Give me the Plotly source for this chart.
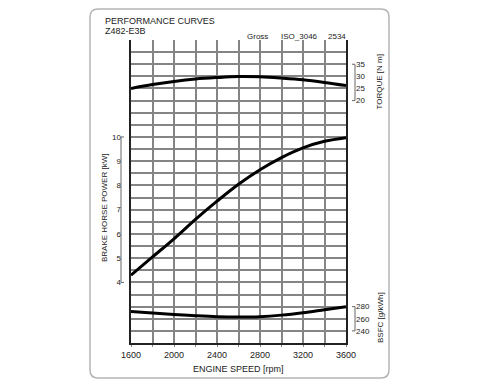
import plotly.graph_objects as go

# ---- data ----
rpm = [1600, 1800, 2000, 2200, 2400, 2600, 2800, 3000, 3200, 3400, 3600]
torque_nm = [25.0, 26.6, 27.9, 28.9, 29.5, 29.9, 29.8, 29.3, 28.6, 27.5, 26.2]
power_kw = [4.3, 5.05, 5.8, 6.6, 7.35, 8.05, 8.65, 9.15, 9.55, 9.82, 9.97]
bsfc_gkwh = [272, 269.5, 267, 265, 263.5, 263, 263.5, 266, 270, 275, 280]

x_ticks = [1600, 2000, 2400, 2800, 3200, 3600]
power_ticks = [4, 5, 6, 7, 8, 9, 10]
torque_ticks = [20, 25, 30, 35]
bsfc_ticks = [240, 260, 280]

# ---- layout helpers (screen pixel -> paper); page body has an 8px margin ----
OFF = 8
L, R, T, B = 121 - OFF, 355 - OFF, 40 - OFF, 343 - OFF
W, H = R - L, B - T
def px(x):
    return (x - OFF - L) / W
def py(y):
    return (B - (y - OFF)) / H

FONT = "Liberation Sans, Arial, sans-serif"
TXT = "#222222"
GRID = "#858585"

fig = go.Figure()
# invisible trace so the base grid axis is drawn
fig.add_trace(go.Scatter(x=[rpm[0], rpm[-1]], y=[0, 25], mode="markers",
                         marker=dict(opacity=0), hoverinfo="skip"))
fig.add_trace(go.Scatter(x=rpm, y=torque_nm, yaxis="y3", mode="lines",
                         line=dict(color="black", width=3, shape="spline"), hoverinfo="skip"))
fig.add_trace(go.Scatter(x=rpm, y=power_kw, yaxis="y2", mode="lines",
                         line=dict(color="black", width=3, shape="spline"), hoverinfo="skip"))
fig.add_trace(go.Scatter(x=rpm, y=bsfc_gkwh, yaxis="y4", mode="lines",
                         line=dict(color="black", width=3, shape="spline"), hoverinfo="skip"))

fig.update_layout(
    width=500, height=384,
    margin=dict(l=L, r=500 - R, t=T, b=384 - B),
    paper_bgcolor="white", plot_bgcolor="rgba(0,0,0,0)",
    showlegend=False,
    font=dict(family=FONT, size=9, color=TXT),
    xaxis=dict(domain=[px(131), px(346)], range=[1600, 3600],
               tickvals=list(range(1600, 3601, 200)),
               ticktext=[str(v) if v in x_ticks else "" for v in range(1600, 3601, 200)],
               showgrid=True, gridcolor=GRID, gridwidth=1.5,
               showline=True, linecolor="#222", linewidth=2, mirror=False,
               ticks="outside", ticklen=2, tickcolor=GRID,
               tickfont=dict(size=9, color=TXT), zeroline=False, fixedrange=True),
    yaxis=dict(range=[0, 25], dtick=1, showticklabels=False,
               showgrid=True, gridcolor=GRID, gridwidth=1.5,
               showline=True, linecolor="#222", linewidth=2, mirror=True,
               zeroline=False, ticks="", fixedrange=True),
    yaxis2=dict(overlaying="y", anchor="free", position=0, side="left",
                range=[1.5, 14], tickvals=power_ticks,
                showgrid=False, showline=False, zeroline=False, ticks="",
                tickfont=dict(size=8, color=TXT), fixedrange=True),
    yaxis3=dict(overlaying="y", anchor="free", position=1, side="right",
                range=[-80, 45], tickvals=torque_ticks,
                showgrid=False, showline=False, zeroline=False, ticks="",
                tickfont=dict(size=8, color=TXT), fixedrange=True),
    yaxis4=dict(overlaying="y", anchor="free", position=1, side="right",
                range=[220, 720], tickvals=bsfc_ticks,
                showgrid=False, showline=False, zeroline=False, ticks="",
                tickfont=dict(size=8, color=TXT), fixedrange=True),
)

# brackets for the secondary scales
def bracket(yref, lo, hi, x, hook):
    fig.add_shape(type="line", xref="paper", yref=yref, x0=x, x1=x, y0=lo, y1=hi,
                  line=dict(color="#666", width=1))
    for v in (lo, hi):
        fig.add_shape(type="line", xref="paper", yref=yref, x0=x, x1=x + hook,
                      y0=v, y1=v, line=dict(color="#666", width=1))

bracket("y2", power_ticks[0], power_ticks[-1], 0, 3 / W)
bracket("y3", torque_ticks[0], torque_ticks[-1], 1, -3 / W)
bracket("y4", bsfc_ticks[0], bsfc_ticks[-1], 1, -3 / W)

# outer rounded frame
x0, x1, y0, y1 = px(90), px(389), py(378), py(OFF + 0.9)
rx, ry = 8 / W, 8 / H
path = (f"M {x0+rx},{y0} L {x1-rx},{y0} Q {x1},{y0} {x1},{y0+ry} "
        f"L {x1},{y1-ry} Q {x1},{y1} {x1-rx},{y1} L {x0+rx},{y1} "
        f"Q {x0},{y1} {x0},{y1-ry} L {x0},{y0+ry} Q {x0},{y0} {x0+rx},{y0} Z")
fig.add_shape(type="path", path=path, xref="paper", yref="paper",
              line=dict(color="#b5b5b5", width=1.5), layer="below")

def ann(text, x, y, xanchor="left", angle=0, size=9):
    fig.add_annotation(text=text, x=px(x), y=py(y), xref="paper", yref="paper",
                       xanchor=xanchor, yanchor="middle", textangle=angle,
                       showarrow=False, font=dict(size=size, color=TXT, family=FONT))

ann("PERFORMANCE CURVES", 103, 21)
ann("Z482-E3B", 103, 31)
ann("Gross", 245, 36, size=8)
ann("ISO_3046", 279, 36, size=8)
ann("2534", 326, 36, size=8)
ann("ENGINE SPEED [rpm]", 238.5, 369, xanchor="center")
ann("BRAKE HORSE POWER [kW]", 104, 208, xanchor="center", angle=-90, size=8)
ann("TORQUE [N m]", 379, 82.5, xanchor="center", angle=-90, size=8)
ann("BSFC [g/kWh]", 380, 318, xanchor="center", angle=-90, size=8)

fig.write_html("out.html")
